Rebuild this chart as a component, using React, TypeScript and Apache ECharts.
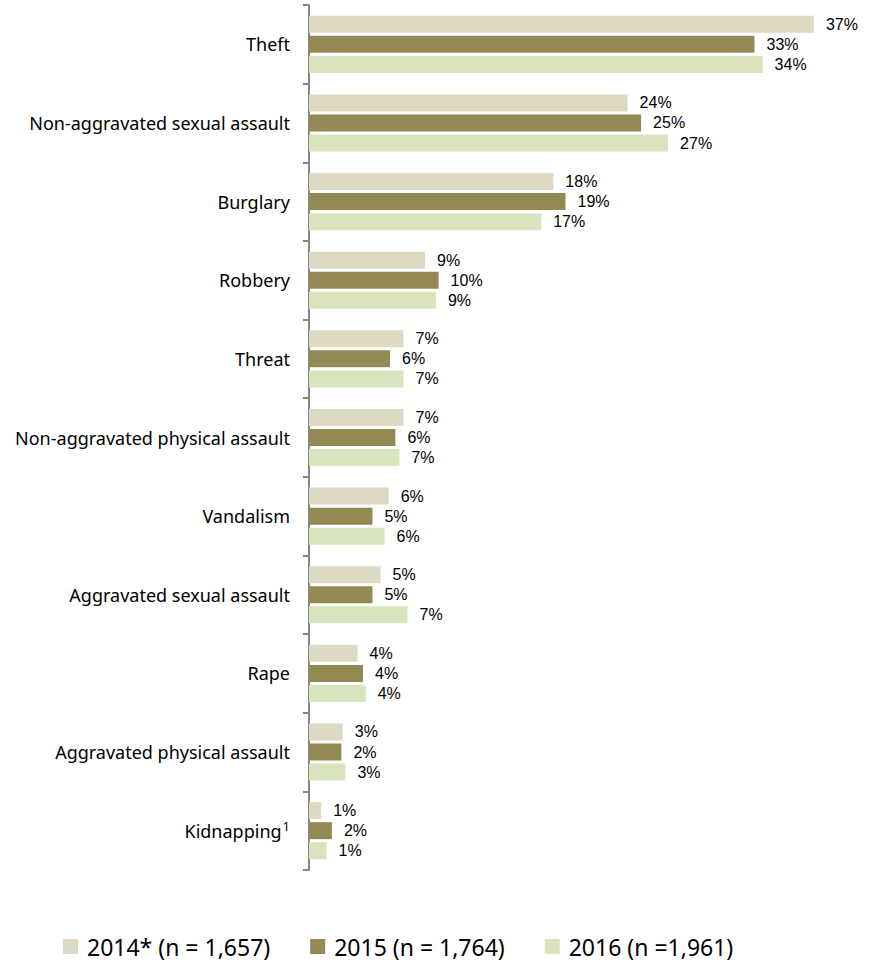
import React, { useEffect, useRef } from "react";
import * as echarts from "echarts";

const categories = [
  "Theft",
  "Non-aggravated sexual assault",
  "Burglary",
  "Robbery",
  "Threat",
  "Non-aggravated physical assault",
  "Vandalism",
  "Aggravated sexual assault",
  "Rape",
  "Aggravated physical assault",
  "Kidnapping",
];
const footnoteCategory = "Kidnapping";

const seriesNames = ["2014* (n = 1,657)", "2015 (n = 1,764)", "2016 (n =1,961)"];
const values2014 = [37.4, 23.6, 18.1, 8.6, 7.0, 7.0, 5.9, 5.3, 3.6, 2.5, 0.9];
const values2015 = [33.0, 24.6, 19.0, 9.6, 6.0, 6.4, 4.7, 4.7, 4.0, 2.4, 1.7];
const values2016 = [33.6, 26.6, 17.2, 9.4, 7.0, 6.7, 5.6, 7.3, 4.2, 2.7, 1.3];
const colors = ["#DDD9C3", "#938953", "#D7E4BD"];

export default function App() {
  const ref = useRef<HTMLDivElement>(null);
  useEffect(() => {
    if (!ref.current) return;
    const chart = echarts.init(ref.current, undefined, { renderer: "svg" });
    const font = "Noto Sans";
    const labelFont = "Liberation Sans";
    const mk = (name: string, data: number[], color: string) => ({
      name,
      type: "bar",
      data,
      barWidth: 17,
      barGap: "18%",
      itemStyle: { color },
      label: {
        show: true,
        position: "right",
        distance: 12,
        fontFamily: labelFont,
        fontSize: 16,
        lineHeight: 16,
        color: "#000",
        formatter: (p: any) => Math.round(p.value) + "%",
      },
    });
    chart.setOption({
      animation: false,
      textStyle: { fontFamily: font },
      grid: { left: 309, top: 5, width: 540, height: 865, containLabel: false },
      legend: {
        left: 63,
        top: 935,
        padding: 0,
        itemWidth: 15,
        itemHeight: 15,
        itemGap: 40,
        icon: "rect",
        textStyle: { fontFamily: font, fontSize: 23, color: "#000", padding: [0, 0, 0, 4] },
        data: seriesNames,
      },
      xAxis: { type: "value", min: 0, max: 40, show: false },
      yAxis: {
        type: "category",
        inverse: true,
        data: categories,
        axisLine: { lineStyle: { color: "#868686", width: 2 } },
        axisTick: { show: true, length: 6, lineStyle: { color: "#868686", width: 2 } },
        axisLabel: {
          margin: 19,
          fontFamily: font,
          fontSize: 18,
          color: "#000",
          formatter: (v: string) =>
            v === footnoteCategory ? `{a|${v}}{sup|1}` : `{a|${v}}`,
          rich: {
            a: { fontFamily: font, fontSize: 18, color: "#000" },
            sup: { fontFamily: font, fontSize: 13, color: "#000", verticalAlign: "top", padding: [0, 0, 10, 1] },
          },
        },
      },
      series: [
        mk(seriesNames[0], values2014, colors[0]),
        mk(seriesNames[1], values2015, colors[1]),
        mk(seriesNames[2], values2016, colors[2]),
      ],
    });
    return () => chart.dispose();
  }, []);
  return (
    <div
      ref={ref}
      style={{ position: "absolute", left: 0, top: 0, width: 869, height: 967, background: "#fff" }}
    />
  );
}
